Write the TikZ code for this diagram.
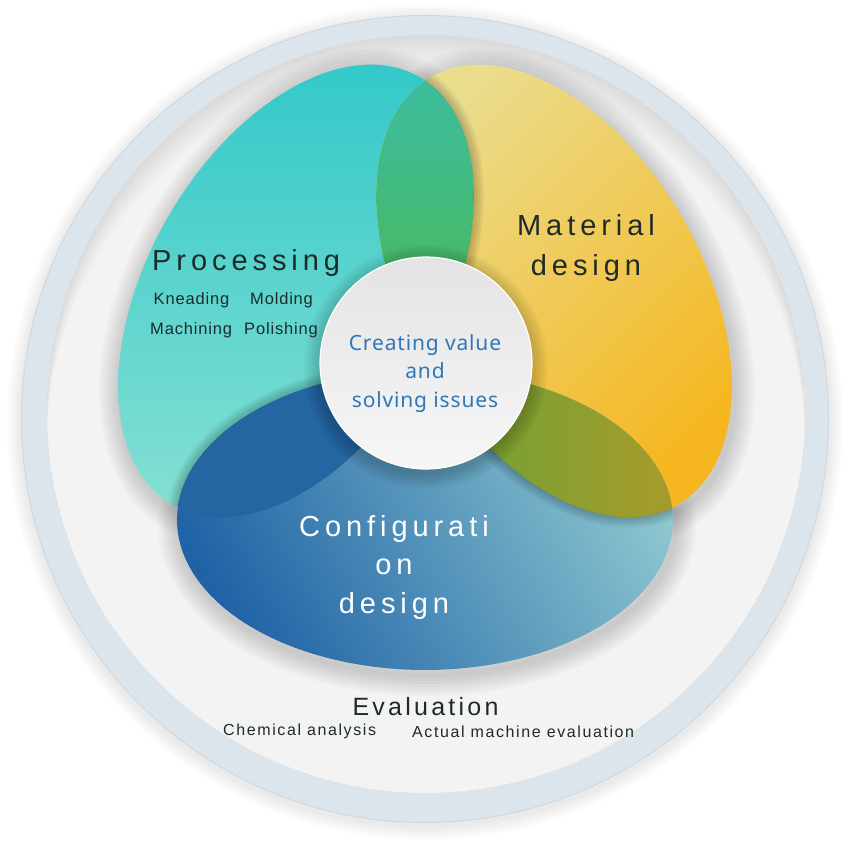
\documentclass[tikz,border=0pt]{standalone}
\usepackage{fontspec}
\setmainfont{Liberation Sans}
\newfontfamily\bigls{Liberation Sans}[LetterSpace=17]
\newfontfamily\evls{Liberation Sans}[LetterSpace=13]
\newfontfamily\evsubls{Liberation Sans}[LetterSpace=10]
\newfontfamily\subls{Liberation Sans}[LetterSpace=5]
\newfontfamily\centerfont{Noto Sans}[LetterSpace=4]
\definecolor{ringc}{HTML}{DCE4EC}
\definecolor{discc}{HTML}{F3F3F3}
\definecolor{tealA}{HTML}{32C8C9}
\definecolor{tealB}{HTML}{86E0D3}
\definecolor{yelA}{HTML}{EADD8E}
\definecolor{yelB}{HTML}{F6B61F}
\definecolor{bluA}{HTML}{1F62A6}
\definecolor{bluB}{HTML}{8FC9D0}
\definecolor{grnA}{HTML}{3BBDA5}
\definecolor{grnB}{HTML}{47B968}
\definecolor{dblu}{HTML}{2366A2}
\definecolor{oliA}{HTML}{78A033}
\definecolor{oliB}{HTML}{A89B2B}
\definecolor{ccA}{HTML}{E4E4E4}
\definecolor{ccB}{HTML}{F6F6F6}
\definecolor{txtdark}{HTML}{1E2A2A}
\definecolor{txtblue}{HTML}{2F77B8}
\newcommand\tealpath{plot[domain=0:360,samples=121,variable=\t] ({296+123.5*cos(\t)+128*sin(\t)},{291-214*cos(\t)+74*sin(\t)}) -- cycle}
\newcommand\yelpath{plot[domain=0:360,samples=121,variable=\t] ({554+123.5*cos(\t)+128*sin(\t)},{291+214*cos(\t)-74*sin(\t)}) -- cycle}
\newcommand\blupath{plot[domain=0:360,samples=121,variable=\t] ({425+248*cos(\t)},{520+150*sin(\t)}) -- cycle}
\tikzset{
  bigtxt/.style={font=\bigls\fontsize{29}{35}\selectfont, text=txtdark, inner sep=0pt},
  bigwhite/.style={bigtxt, text=white},
  subtxt/.style={font=\subls\fontsize{16.5}{20}\selectfont, text=txtdark, inner sep=0pt},
  evtxt/.style={font=\evls\fontsize{25}{30}\selectfont, text=txtdark, inner sep=0pt},
  evsub/.style={font=\evsubls\fontsize{16}{20}\selectfont, text=txtdark, inner sep=0pt},
  ctrtxt/.style={font=\centerfont\fontsize{21}{25}\selectfont, text=txtblue, inner sep=0pt},
  softline/.style={black, opacity=0.022, line join=round}
}
\begin{document}
\begin{tikzpicture}[x=1pt,y=-1pt]
\useasboundingbox (0,0) rectangle (851,851);
\fill[white] (0,0) rectangle (851,851);
% outer shadow
\foreach \r in {2,4,...,14} { \fill[black,opacity=0.012] (425,422) circle ({404+\r}); }
% ring and disc
\fill[ringc] (425,419) circle (404);
\draw[black,opacity=0.05,line width=1pt] (425,419) circle (403.5);
\fill[discc] (426,414) circle (379);
\begin{scope}
  \clip (426,414) circle (379);
  \foreach \s in {4,8,...,32} { \fill[black,opacity=0.012,even odd rule] (426,414) circle (379) (426,{414+\s}) circle (379); }
\end{scope}
% drop shadows of lobes
\foreach \w in {6,12,...,42} {
  \draw[softline,line width=\w pt,shift={(2,5)}] \tealpath;
  \draw[softline,line width=\w pt,shift={(2,5)}] \yelpath;
  \draw[softline,line width=\w pt,shift={(2,5)}] \blupath;
}
% lobes
\begin{scope}
  \clip \tealpath;
  \shade[top color=tealA, bottom color=tealB] (100,55) rectangle (480,520);
\end{scope}
\begin{scope}
  \clip \yelpath;
  \shade[top color=yelA, bottom color=yelB, shading angle=45] (370,55) rectangle (750,520);
\end{scope}
\begin{scope}
  \clip \blupath;
  \shade[top color=bluA, bottom color=bluB, shading angle=120] (170,360) rectangle (680,680);
\end{scope}
% overlaps
\begin{scope}
  \clip \tealpath;
  \clip \yelpath;
  \shade[top color=grnA, bottom color=grnB] (370,60) rectangle (480,270);
\end{scope}
\begin{scope}
  \clip \tealpath;
  \clip \blupath;
  \fill[dblu] (170,360) rectangle (480,530);
\end{scope}
\begin{scope}
  \clip \yelpath;
  \clip \blupath;
  \shade[left color=oliA, right color=oliB] (480,360) rectangle (680,530);
\end{scope}
% cross shadows
\begin{scope}[even odd rule]
  \clip \yelpath;
  \clip (-10,-10) rectangle (861,861) \tealpath;
  \foreach \w in {3,6,...,21} { \draw[black,opacity=0.03,line width=\w pt] \tealpath; }
\end{scope}
\begin{scope}[even odd rule]
  \clip \blupath;
  \clip (-10,-10) rectangle (861,861) \yelpath;
  \foreach \w in {3,6,...,21} { \draw[black,opacity=0.03,line width=\w pt] \yelpath; }
\end{scope}
\begin{scope}[even odd rule]
  \clip \tealpath;
  \clip (-10,-10) rectangle (861,861) \blupath;
  \foreach \w in {3,6,...,21} { \draw[black,opacity=0.03,line width=\w pt] \blupath; }
\end{scope}
% centre circle
\foreach \r in {2,4,...,16} { \fill[black,opacity=0.022] (426,367) circle ({106+\r}); }
\shade[top color=ccA, bottom color=ccB] (426,363) circle (106);
\draw[white,line width=1.2pt] (426,363) circle (106);
% texts
\node[bigtxt, anchor=base west] (proc) at (152,270) {Processing};
\node[subtxt, anchor=base west] (knead) at (153.5,304) {Kneading};
\node[subtxt, anchor=base west] (mold) at (250,304) {Molding};
\node[subtxt, anchor=base west] (mach) at (150,334) {Machining};
\node[subtxt, anchor=base west] (pol) at (244,334) {Polishing};
\node[bigtxt, anchor=base] (mat1) at (586,235) {Material};
\node[bigtxt, anchor=base] (mat2) at (586,275) {design};
\node[bigwhite, anchor=base] (con1) at (394,536) {Configurati};
\node[bigwhite, anchor=base] (con2) at (394,574) {on};
\node[bigwhite, anchor=base] (con3) at (394,613) {design};
\node[ctrtxt, anchor=base] (c1) at (425,350) {Creating value};
\node[ctrtxt, anchor=base] (c2) at (425,378) {and};
\node[ctrtxt, anchor=base] (c3) at (425,407) {solving issues};
\node[evtxt, anchor=base] (ev) at (425.5,715) {Evaluation};
\node[evsub, anchor=base west] (chem) at (223,735) {Chemical analysis};
\node[evsub, anchor=base west] (act) at (412,737) {Actual machine evaluation};
\end{tikzpicture}
\end{document}
